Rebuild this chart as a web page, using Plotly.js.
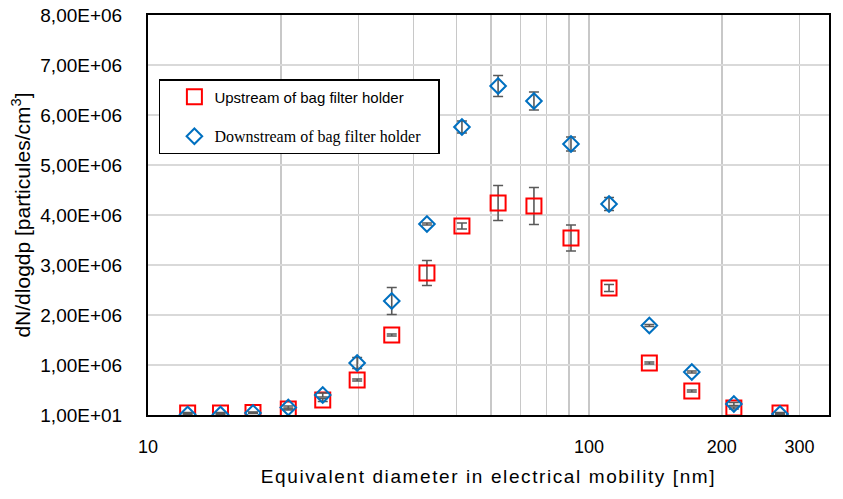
<!DOCTYPE html>
<html>
<head>
<meta charset="utf-8">
<script src="https://cdn.plot.ly/plotly-3.0.1.min.js"></script>
<style>body{margin:0;padding:0;background:#fff;} #chart{width:843px;height:499px;}</style>
</head>
<body>
<div id="chart"></div>
<script>
// Equivalent diameter (nm)
const diameters = [12.3, 14.6, 17.3, 20.8, 24.9, 29.8, 35.7, 42.9, 51.5, 62.2, 75.0, 91.0, 111, 137, 171, 213, 271];
// dN/dlogdp (particules/cm3)
const upstream = [0.04e6, 0.04e6, 0.05e6, 0.12e6, 0.30e6, 0.70e6, 1.60e6, 2.84e6, 3.78e6, 4.24e6, 4.18e6, 3.54e6, 2.54e6, 1.04e6, 0.48e6, 0.14e6, 0.04e6];
const upstreamErr = [0.01e6, 0.01e6, 0.01e6, 0.02e6, 0.03e6, 0.02e6, 0.02e6, 0.25e6, 0.06e6, 0.35e6, 0.37e6, 0.26e6, 0.07e6, 0.02e6, 0.02e6, 0.02e6, 0.01e6];
const downstream = [0.01e6, 0.01e6, 0.04e6, 0.15e6, 0.40e6, 1.04e6, 2.28e6, 3.82e6, 5.76e6, 6.58e6, 6.28e6, 5.42e6, 4.22e6, 1.79e6, 0.86e6, 0.22e6, 0.02e6];
const downstreamErr = [0.01e6, 0.01e6, 0.01e6, 0.03e6, 0.04e6, 0.11e6, 0.27e6, 0.02e6, 0.12e6, 0.21e6, 0.18e6, 0.14e6, 0.13e6, 0.02e6, 0.02e6, 0.03e6, 0.01e6];
const seriesNames = ["Upstream of bag filter holder", "Downstream of bag filter holder"];
// axis ticks
const yTickVals = [10, 1000010, 2000010, 3000010, 4000010, 5000010, 6000010, 7000010, 8000010];
const xTickVals = [10, 100, 200, 300];
const xTickLabels = ["10", "100", "200", "300"];
const xMinorVals = [20, 30, 40, 50, 60, 70, 80, 90];

function sciComma(v) {
  const e = Math.floor(Math.log10(v));
  const m = v / Math.pow(10, e);
  return m.toFixed(2).replace('.', ',') + 'E+' + String(e).padStart(2, '0');
}
const yTickText = yTickVals.map(sciComma);

const errStyle = {type: 'data', visible: true, thickness: 1.6, width: 5, color: '#595959'};

const traces = [
  {
    x: diameters, y: upstream.map(v => v + 10), type: 'scatter', mode: 'markers',
    name: seriesNames[0], legendgroup: 'a',
    marker: {symbol: 'square-open', size: 15, color: '#FF0000', line: {width: 2, color: '#FF0000'}},
    error_y: Object.assign({array: upstreamErr}, errStyle)
  },
  {
    x: diameters, y: downstream.map(v => v + 10), type: 'scatter', mode: 'markers',
    name: '<span style="font-family:Liberation Serif;font-size:16px">' + seriesNames[1] + '</span>\u00a0\u00a0\u00a0',
    legendgroup: 'b',
    marker: {symbol: 'diamond-open', size: 12, color: '#0070C0', line: {width: 2, color: '#0070C0'}},
    error_y: Object.assign({array: downstreamErr}, errStyle)
  }
];

const layout = {
  width: 843, height: 499,
  margin: {l: 148, r: 14, t: 15, b: 84},
  paper_bgcolor: '#ffffff', plot_bgcolor: '#ffffff',
  font: {family: 'Liberation Sans, Arial, sans-serif', color: '#000000', size: 18},
  showlegend: true,
  legend: {
    x: 0.016, y: 0.84, xanchor: 'left', yanchor: 'top',
    bgcolor: '#ffffff', bordercolor: '#000000', borderwidth: 1.5,
    font: {family: 'Liberation Sans, Arial, sans-serif', size: 15, color: '#000000'},
    traceorder: 'grouped', tracegroupgap: 17, indentation: 14
  },
  xaxis: {
    type: 'log', range: [1, Math.log10(350)],
    tickmode: 'array', tickvals: xTickVals, ticktext: xTickLabels,
    showgrid: true, gridcolor: '#C8C8C8', gridwidth: 1.5,
    minor: {tickmode: 'array', tickvals: xMinorVals, showgrid: true, gridcolor: '#C8C8C8', gridwidth: 1.5, ticks: ''},
    showline: true, linecolor: '#000000', linewidth: 2, mirror: true,
    ticks: '', ticklabelstandoff: 14, zeroline: false,
    tickfont: {size: 18},
    title: {text: '<span style="letter-spacing:1.6px">Equivalent diameter in electrical mobility [nm]</span>', font: {size: 19}, standoff: 14}
  },
  yaxis: {
    type: 'linear', range: [10, 8000010],
    tickmode: 'array', tickvals: yTickVals, ticktext: yTickText,
    showgrid: true, gridcolor: '#D9D9D9', gridwidth: 1.5,
    showline: true, linecolor: '#000000', linewidth: 2, mirror: true,
    ticks: '', ticklabelstandoff: 20, zeroline: false,
    tickfont: {size: 19},
    title: {text: 'dN/dlogdp [particules/cm<sup>3</sup>]', font: {size: 21}, standoff: 4}
  }
};

Plotly.newPlot('chart', traces, layout, {displayModeBar: false, staticPlot: true});
</script>
</body>
</html>
